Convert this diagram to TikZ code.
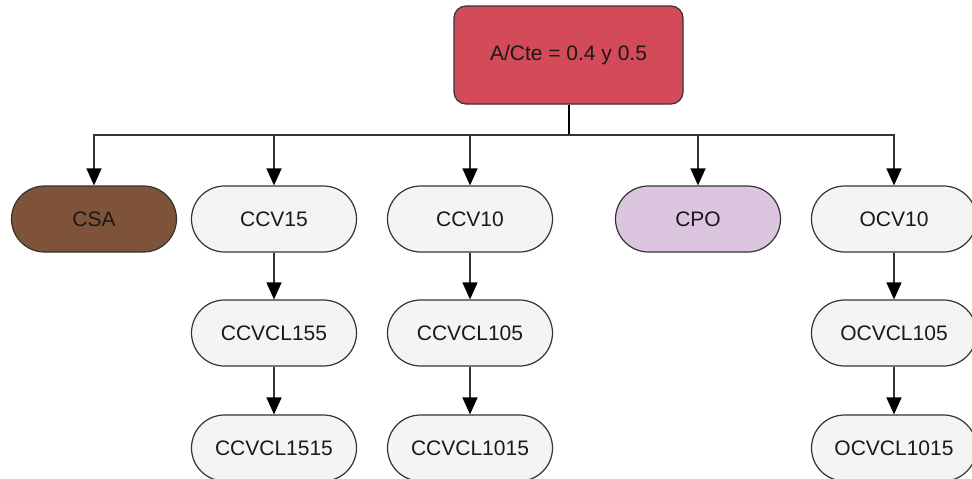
\documentclass[tikz,border=0pt]{standalone}
\usepackage{fontspec}
\setmainfont{Liberation Sans}
\usetikzlibrary{arrows.meta}
\definecolor{topred}{HTML}{D34B58}
\definecolor{brownfill}{HTML}{7F5339}
\definecolor{purplefill}{HTML}{DCC5DF}
\definecolor{grayfill}{HTML}{F4F4F4}
\definecolor{edge}{HTML}{333333}
\begin{document}
\begin{tikzpicture}[x=1pt,y=-1pt,
  pill/.style={draw=edge, line width=1.2pt, fill=grayfill, rectangle, rounded corners=33pt,
    minimum width=165pt, minimum height=66pt, inner sep=0pt, font=\fontsize{21}{25}\selectfont, text=black!90},
  topbox/.style={draw=edge, line width=1.2pt, fill=topred, rectangle, rounded corners=12pt,
    minimum width=229pt, minimum height=98pt, inner sep=0pt, font=\fontsize{21}{25}\selectfont, text=black!90},
  arr/.style={draw=edge, line width=1.5pt, -{Triangle[width=15pt,length=17pt,black]}}
]
\useasboundingbox (0,0) rectangle (972,479);
\node[topbox] (top) at (568.5,55) {A/Cte = 0.4 y 0.5};
\coordinate (bus) at (568.5,135);

\node[pill, fill=brownfill] (csa) at (94,219) {CSA};
\node[pill] (ccv15) at (274,219) {CCV15};
\node[pill] (ccv10) at (470,219) {CCV10};
\node[pill, fill=purplefill] (cpo) at (698,219) {CPO};
\node[pill] (ocv10) at (894,219) {OCV10};

\node[pill] (ccvcl155) at (274,333) {CCVCL155};
\node[pill] (ccvcl105) at (470,333) {CCVCL105};
\node[pill] (ocvcl105) at (894,333) {OCVCL105};

\node[pill] (ccvcl1515) at (274,448) {CCVCL1515};
\node[pill] (ccvcl1015) at (470,448) {CCVCL1015};
\node[pill] (ocvcl1015) at (894,448) {OCVCL1015};

\draw[line width=2pt, black] (top.south) -- (bus);
\foreach \c in {csa,ccv15,ccv10,cpo,ocv10}{
  \draw[arr] (bus) -| (\c.north);
}
\draw[arr] (ccv15) -- (ccvcl155);
\draw[arr] (ccvcl155) -- (ccvcl1515);
\draw[arr] (ccv10) -- (ccvcl105);
\draw[arr] (ccvcl105) -- (ccvcl1015);
\draw[arr] (ocv10) -- (ocvcl105);
\draw[arr] (ocvcl105) -- (ocvcl1015);
\end{tikzpicture}
\end{document}
